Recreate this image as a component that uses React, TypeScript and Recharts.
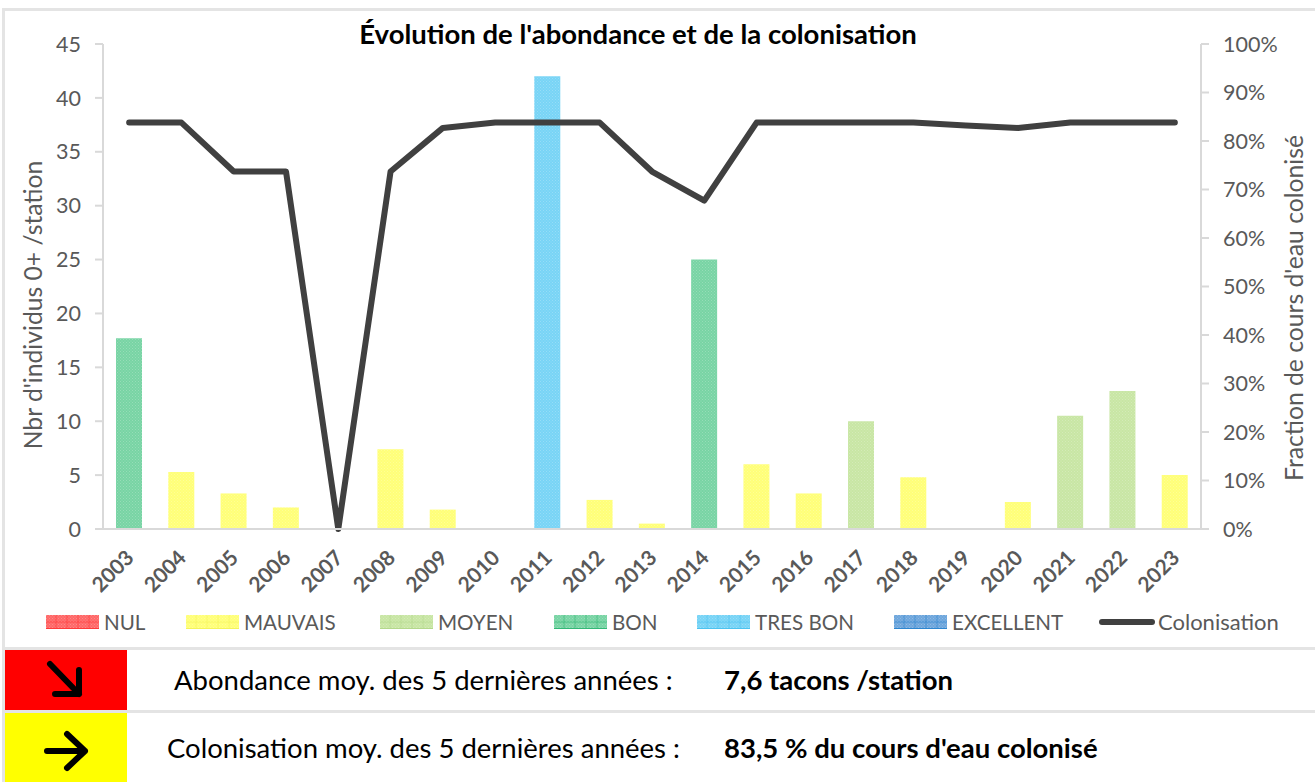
import React from 'react';
import { ComposedChart, Bar, Line, XAxis, YAxis, Legend } from 'recharts';

const YEARS = ['2003', '2004', '2005', '2006', '2007', '2008', '2009', '2010', '2011', '2012', '2013', '2014', '2015', '2016', '2017', '2018', '2019', '2020', '2021', '2022', '2023'];
const NUL: (number | null)[] = [null, null, null, null, 0, null, null, 0, null, null, null, null, null, null, null, null, 0, null, null, null, null];
const MAUVAIS = [null, 5.3, 3.3, 2, null, 7.4, 1.8, null, null, 2.7, 0.5, null, 6, 3.3, null, 4.8, null, 2.5, null, null, 5];
const MOYEN = [null, null, null, null, null, null, null, null, null, null, null, null, null, null, 10, null, null, null, 10.5, 12.8, null];
const BON = [17.7, null, null, null, null, null, null, null, null, null, null, 25, null, null, null, null, null, null, null, null, null];
const TRES_BON = [null, null, null, null, null, null, null, null, 42, null, null, null, null, null, null, null, null, null, null, null, null];
const EXCELLENT: (number | null)[] = YEARS.map(() => null);
const COLONISATION = [83.8, 83.8, 73.7, 73.7, 0, 73.7, 82.7, 83.8, 83.8, 83.8, 73.7, 67.7, 83.8, 83.8, 83.8, 83.8, 83.2, 82.7, 83.8, 83.8, 83.8];

const LEFT_TICKS = [0, 5, 10, 15, 20, 25, 30, 35, 40, 45];
const RIGHT_TICKS = [0, 10, 20, 30, 40, 50, 60, 70, 80, 90, 100];

const CLASSES = [
  { key: 'NUL', color: '#ff6868', line: '#ff3b3b', values: NUL, x: 46 },
  { key: 'MAUVAIS', color: '#ffff78', line: '#f4f45c', values: MAUVAIS, x: 186 },
  { key: 'MOYEN', color: '#c8e6a4', line: '#b4d88c', values: MOYEN, x: 380 },
  { key: 'BON', color: '#78d4a4', line: '#33b877', values: BON, x: 554 },
  { key: 'TRES BON', color: '#78d4f6', line: '#4dc3f0', values: TRES_BON, x: 697 },
  { key: 'EXCELLENT', color: '#6ea6dc', line: '#2e86d0', values: EXCELLENT, x: 894 },
];

const data = YEARS.map((year, i) => {
  const row: Record<string, string | number | null> = { year, Colonisation: COLONISATION[i] };
  CLASSES.forEach((c) => { row[c.key] = c.values[i]; });
  return row;
});

const FONT = 'Lato, "Open Sans", sans-serif';
const patternId = (key: string) => `dither-${key.replace(' ', '-')}`;

function ChartLegend() {
  const labelStyle: React.CSSProperties = { position: 'absolute', top: 0, fontSize: 20.6, lineHeight: '24px', color: '#595959', fontFamily: FONT, whiteSpace: 'nowrap' };
  return (
    <div style={{ position: 'relative', width: 1315, height: 24 }}>
      {CLASSES.map((c) => (
        <React.Fragment key={c.key}>
          <svg width={53} height={14} style={{ position: 'absolute', left: c.x, top: 5 }}>
            <rect width={53} height={14} fill={`url(#${patternId(c.key)})`} />
            {[10, 21, 32, 43].map((x) => <line key={x} x1={x} x2={x} y1={0} y2={14} stroke={c.line} strokeWidth={1} strokeOpacity={0.6} />)}
            <line x1={0} x2={53} y1={7} y2={7} stroke={c.line} strokeWidth={1} strokeOpacity={0.6} />
            <line x1={0} x2={53} y1={13.5} y2={13.5} stroke={c.line} strokeWidth={1} />
          </svg>
          <span style={{ ...labelStyle, left: c.x + 58 }}>{c.key}</span>
        </React.Fragment>
      ))}
      <div style={{ position: 'absolute', left: 1099, top: 9, width: 56, height: 6, borderRadius: 3, background: '#404040' }} />
      <span style={{ ...labelStyle, left: 1158, fontSize: 22 }}>Colonisation</span>
    </div>
  );
}

function ArrowDown() {
  return (
    <svg width={122} height={60} style={{ display: 'block' }}>
      <path d="M45 14 L74 44 M74 20 L74 44 L50 44" fill="none" stroke="#000" strokeWidth={6} strokeLinecap="round" strokeLinejoin="round" />
    </svg>
  );
}

function ArrowRight() {
  return (
    <svg width={122} height={69} style={{ display: 'block' }}>
      <path d="M42 38 L80 38 M62 21 L80 38 L62 55" fill="none" stroke="#000" strokeWidth={6} strokeLinecap="round" strokeLinejoin="round" />
    </svg>
  );
}

function YearTick({ x, y, payload }: { x?: number; y?: number; payload?: { value: string } }) {
  return (
    <text transform={`translate(${x},${(y ?? 0) + 16}) rotate(-45)`} textAnchor="end" dominantBaseline="central" fontSize={21} fontWeight={700} fill="#595959" fontFamily={FONT}>
      {payload?.value}
    </text>
  );
}

function SummaryRow({ top, height, color, arrow, label, labelX, value }: { top: number; height: number; color: string; arrow: React.ReactNode; label: string; labelX: number; value: string }) {
  return (
    <div style={{ position: 'absolute', left: 5, top, width: 1310, height, fontFamily: FONT, fontSize: 27.5, color: '#000' }}>
      <div style={{ position: 'absolute', left: 0, top: 0, width: 122, height, background: color }}>{arrow}</div>
      <span style={{ position: 'absolute', left: labelX - 5, top: 0, lineHeight: `${height}px`, whiteSpace: 'nowrap' }}>{label}</span>
      <span style={{ position: 'absolute', left: 719, top: 0, lineHeight: `${height}px`, fontWeight: 700, whiteSpace: 'nowrap' }}>{value}</span>
    </div>
  );
}

export default function App() {
  const tick = { fontSize: 21.5, fill: '#595959', fontFamily: FONT };
  const axisLine = { stroke: '#d9d9d9', strokeWidth: 2 };
  const tickLine = { stroke: '#d9d9d9', strokeWidth: 2 };
  return (
    <div style={{ position: 'absolute', left: 0, top: 0, width: 1315, height: 782, background: '#fff', overflow: 'hidden' }}>
      <ComposedChart width={1315} height={647} data={data} margin={{ top: 44, right: 0, bottom: 34, left: 0 }} style={{ fontFamily: FONT }}>
        <defs>
          {CLASSES.map((c) => (
            <pattern key={c.key} id={patternId(c.key)} width={3} height={3} patternUnits="userSpaceOnUse">
              <rect width={3} height={3} fill={c.color} />
              <rect width={1} height={1} fill="#fff" fillOpacity={0.22} />
              <rect x={1.5} y={1.5} width={1} height={1} fill="#fff" fillOpacity={0.22} />
            </pattern>
          ))}
        </defs>
        <XAxis dataKey="year" interval={0} tick={<YearTick />} tickLine={false} axisLine={axisLine} height={60} />
        <YAxis yAxisId="left" orientation="left" width={103} domain={[0, 45]} ticks={LEFT_TICKS} tick={tick} tickLine={tickLine} tickSize={8} axisLine={axisLine} tickMargin={14} />
        <YAxis yAxisId="right" orientation="right" width={114} domain={[0, 100]} ticks={RIGHT_TICKS} tickFormatter={(v) => `${v}%`} tick={tick} tickLine={tickLine} tickSize={8} axisLine={axisLine} tickMargin={14} />
        {CLASSES.map((c) => (
          <Bar key={c.key} yAxisId="left" dataKey={c.key} stackId="classes" barSize={26} fill={`url(#${patternId(c.key)})`} isAnimationActive={false} />
        ))}
        <Line yAxisId="right" dataKey="Colonisation" stroke="#404040" strokeWidth={6} strokeLinecap="round" strokeLinejoin="round" dot={false} activeDot={false} type="linear" isAnimationActive={false} />
        <Legend content={<ChartLegend />} wrapperStyle={{ left: 0, top: 610, width: 1315 }} />
        <text x={638} y={33} textAnchor="middle" dominantBaseline="central" fontSize={27.5} fontWeight={700} fill="#000" fontFamily={FONT}>Évolution de l'abondance et de la colonisation</text>
        <text transform="translate(32,305) rotate(-90)" textAnchor="middle" dominantBaseline="central" fontSize={24.7} fill="#595959" fontFamily={FONT}>Nbr d'individus 0+ /station</text>
        <text transform="translate(1293,308) rotate(-90)" textAnchor="middle" dominantBaseline="central" fontSize={24.7} fill="#595959" fontFamily={FONT}>Fraction de cours d'eau colonisé</text>
      </ComposedChart>

      <div style={{ position: 'absolute', left: 2, top: 8, width: 1313, height: 3, background: '#e4e4e4' }} />
      <div style={{ position: 'absolute', left: 2, top: 8, width: 3, height: 774, background: '#e4e4e4' }} />
      <div style={{ position: 'absolute', left: 2, top: 647, width: 1313, height: 3, background: '#e4e4e4' }} />
      <div style={{ position: 'absolute', left: 2, top: 710, width: 1313, height: 3, background: '#e4e4e4' }} />
      <SummaryRow top={650} height={60} color="#ff0000" arrow={<ArrowDown />} label="Abondance moy. des 5 dernières années :" labelX={174} value="7,6 tacons /station" />
      <SummaryRow top={713} height={69} color="#ffff00" arrow={<ArrowRight />} label="Colonisation moy. des 5 dernières années :" labelX={167} value="83,5 % du cours d'eau colonisé" />
    </div>
  );
}
